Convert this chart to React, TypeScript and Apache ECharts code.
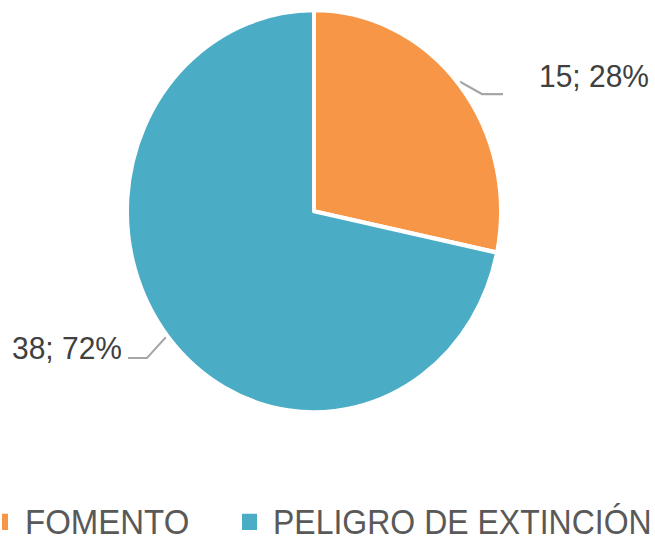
import React, { useEffect, useRef } from "react";
import * as echarts from "echarts";

const categories = ["FOMENTO", "PELIGRO DE EXTINCIÓN"];
const values = [15, 38];
const colors = ["#F79646", "#4BACC6"];

const W = 655;
const H = 544;
const SY = 1.075;
const HP = H / SY;

// label placement (pre-scale coordinates)
const labelPlacement = [
  { x: 539, y: 71, align: "left", line: [[460, 76], [482, 87.5], [503, 87.5]] },
  { x: 122, y: 324, align: "right", line: [[166, 313.5], [147, 333], [128, 333]] },
];

export default function App() {
  const ref = useRef<HTMLDivElement>(null);
  useEffect(() => {
    if (!ref.current) return;
    const chart = echarts.init(ref.current, undefined, { renderer: "svg" });
    const font = "'Liberation Sans', Arial, sans-serif";
    chart.setOption({
      animation: false,
      color: colors,
      legend: [
        {
          data: [categories[0]],
          left: 0,
          top: 469,
          padding: 0,
          icon: "rect",
          itemWidth: 8,
          itemHeight: 17,
          selectedMode: false,
          textStyle: { fontSize: 33, color: "#595959", fontFamily: font, lineHeight: 33, padding: [0, 0, 0, 11] },
        },
        {
          data: [categories[1]],
          left: 240,
          top: 469,
          padding: 0,
          icon: "rect",
          itemWidth: 17,
          itemHeight: 17,
          selectedMode: false,
          textStyle: { fontSize: 32, color: "#595959", fontFamily: font, lineHeight: 33, padding: [0, 0, 0, 10] },
        },
      ],
      series: [
        {
          type: "pie",
          center: [314, 196.5],
          radius: 187,
          startAngle: 90,
          clockwise: true,
          percentPrecision: 0,
          silent: true,
          itemStyle: { borderColor: "#ffffff", borderWidth: 4 },
          label: {
            show: true,
            position: "outside",
            formatter: "{c}; {d}%",
            fontSize: 30,
            color: "#404040",
            fontFamily: font,
          },
          labelLine: { show: true, lineStyle: { color: "#A6A6A6", width: 2 } },
          labelLayout: (params: any) => {
            const p = labelPlacement[params.dataIndex];
            return {
              x: p.x,
              y: p.y,
              align: p.align,
              verticalAlign: "middle",
              labelLinePoints: p.line,
            };
          },
          data: categories.map((name, i) => ({ name, value: values[i] })),
        },
      ],
    });
    return () => chart.dispose();
  }, []);
  return (
    <div style={{ position: "fixed", left: 0, top: 0, width: W, height: H, overflow: "hidden", background: "#fff" }}>
      <div
        ref={ref}
        style={{ width: W, height: HP, transform: `scaleY(${SY})`, transformOrigin: "0 0" }}
      />
    </div>
  );
}
